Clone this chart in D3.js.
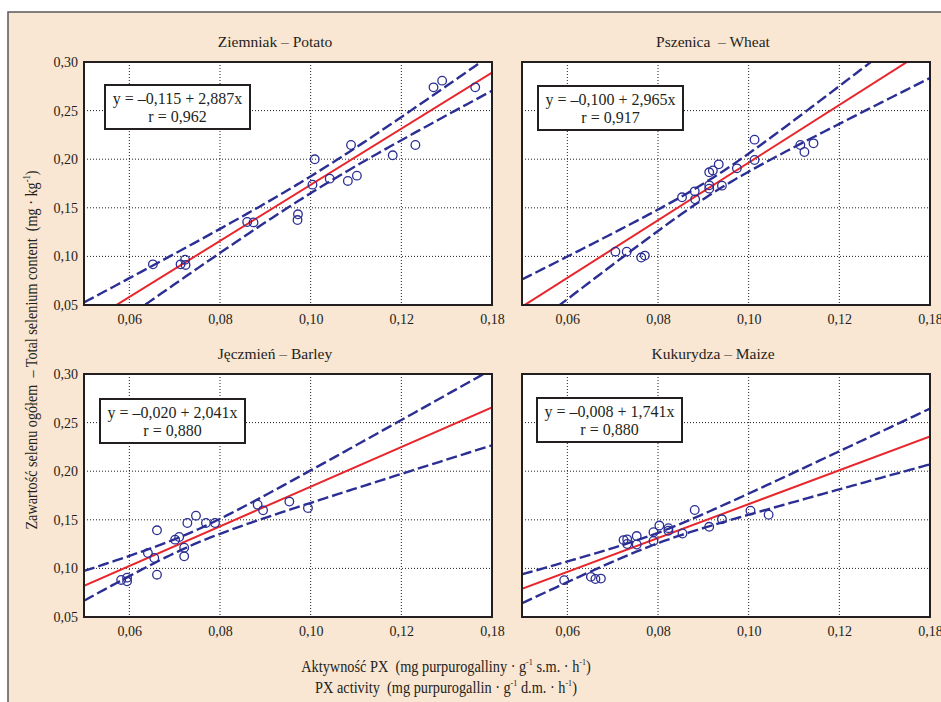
<!DOCTYPE html>
<html><head><meta charset="utf-8">
<script src="https://cdn.jsdelivr.net/npm/d3@7"></script>
<style>
body{margin:0;background:#fff}
</style>
</head><body>
<svg id="chart" width="941" height="702" style="font-family:'Liberation Serif','DejaVu Serif',serif"></svg>
<script>
// ---------------- data ----------------
const panelTitles = ["Ziemniak – Potato", "Pszenica  – Wheat", "Jęczmień – Barley", "Kukurydza – Maize"];
const intercepts = [-0.115, -0.100, -0.020, -0.008];
const slopes = [2.887, 2.965, 2.041, 1.741];
const equationLabels = ["y = –0,115 + 2,887x", "y = –0,100 + 2,965x", "y = –0,020 + 2,041x", "y = –0,008 + 1,741x"];
const rLabels = ["r = 0,962", "r = 0,917", "r = 0,880", "r = 0,880"];
const tCritical = [2.110, 2.110, 2.110, 2.101];

const potatoX = [0.0652,0.0713,0.0723,0.0724,0.0860,0.0874,0.0972,0.0971,0.1004,0.1009,0.1042,0.1082,0.1089,0.1102,0.1181,0.1231,0.1271,0.1290,0.1363];
const potatoY = [0.0918,0.0918,0.0966,0.0912,0.1354,0.1350,0.1433,0.1374,0.1738,0.1999,0.1800,0.1776,0.2146,0.1831,0.2040,0.2146,0.2739,0.2808,0.2739];

const wheatX = [0.0706,0.0731,0.0763,0.0771,0.0853,0.0881,0.0882,0.0913,0.0921,0.0934,0.0913,0.0913,0.0941,0.0974,0.1013,0.1013,0.1114,0.1123,0.1143];
const wheatY = [0.1049,0.1049,0.0988,0.1008,0.1608,0.1669,0.1587,0.1865,0.1884,0.1947,0.1731,0.1697,0.1728,0.1906,0.2201,0.1992,0.2146,0.2074,0.2163];

const barleyX = [0.0582,0.0595,0.0595,0.0641,0.0655,0.0661,0.0661,0.0701,0.0710,0.0721,0.0721,0.0728,0.0747,0.0769,0.0789,0.0883,0.0895,0.0953,0.0994];
const barleyY = [0.0881,0.0905,0.0867,0.1158,0.1107,0.1392,0.0935,0.1296,0.1323,0.1213,0.1124,0.1467,0.1542,0.1467,0.1467,0.1656,0.1597,0.1687,0.1621];

const maizeX = [0.0593,0.0652,0.0662,0.0674,0.0724,0.0732,0.0732,0.0753,0.0753,0.0790,0.0790,0.0803,0.0823,0.0823,0.0854,0.0881,0.0913,0.0941,0.1004,0.1044];
const maizeY = [0.0879,0.0913,0.0891,0.0895,0.1291,0.1299,0.1251,0.1333,0.1246,0.1372,0.1282,0.1441,0.1414,0.1388,0.1359,0.1601,0.1428,0.1505,0.1594,0.1552];

const seriesX = [potatoX, wheatX, barleyX, maizeX];
const seriesY = [potatoY, wheatY, barleyY, maizeY];

const xDomain = [0.05, 0.14];
const yDomain = [0.05, 0.30];
const xTickValues = [0.06, 0.08, 0.10, 0.12, 0.14];
const xTickLabels = ["0,06", "0,08", "0,10", "0,12", "0,18"];
const yTickValues = [0.05, 0.10, 0.15, 0.20, 0.25, 0.30];
const yTickLabels = ["0,05", "0,10", "0,15", "0,20", "0,25", "0,30"];

// ---------------- layout ----------------
const FONT = "'Liberation Serif','DejaVu Serif',serif";
const TEXTC = "#231f20";
const plotW = 408, plotH = 243;
const panelOrigins = [[84, 62], [522, 62], [84, 374], [522, 374]];
const legendOffsets = [[21, 23], [16, 24], [16, 25], [15, 24]];
const colors = {bg: "#f9e6d3", blue: "#2b2f93", red: "#e8262b", frame: "#231f20"};

const svg = d3.select("#chart");
svg.append("rect").attr("x", 8).attr("y", 12).attr("width", 945).attr("height", 700)
  .attr("fill", colors.bg).attr("stroke", "#58585a").attr("stroke-width", 1.5);

const x = d3.scaleLinear().domain(xDomain).range([0, plotW]);
const y = d3.scaleLinear().domain(yDomain).range([plotH, 0]);

function styleText(sel, size) {
  sel.style("font-family", FONT).style("font-size", size + "px").style("fill", TEXTC).style("white-space", "pre");
  return sel;
}

panelTitles.forEach((title, i) => {
  const [ox, oy] = panelOrigins[i];
  const g = svg.append("g").attr("transform", `translate(${ox},${oy})`);
  const clipId = "clip" + i;
  g.append("clipPath").attr("id", clipId).append("rect").attr("width", plotW).attr("height", plotH);

  g.append("rect").attr("width", plotW).attr("height", plotH).attr("fill", "#fff");

  // grid
  g.append("g").selectAll("line").data(xTickValues.filter(v => v > xDomain[0] && v < xDomain[1]))
    .join("line").attr("x1", d => x(d)).attr("x2", d => x(d)).attr("y1", 0).attr("y2", plotH)
    .attr("stroke", "#231f20").attr("stroke-width", 1).attr("stroke-dasharray", "1,2");
  g.append("g").selectAll("line").data(yTickValues.filter(v => v > yDomain[0] && v < yDomain[1]))
    .join("line").attr("y1", d => y(d)).attr("y2", d => y(d)).attr("x1", 0).attr("x2", plotW)
    .attr("stroke", "#231f20").attr("stroke-width", 1).attr("stroke-dasharray", "1,2");

  // regression line and 95% confidence band derived from the points
  const xs = seriesX[i], ys = seriesY[i];
  const n = xs.length, a = intercepts[i], b = slopes[i];
  const xbar = d3.mean(xs);
  const sxx = d3.sum(xs, v => (v - xbar) ** 2);
  const sse = d3.sum(xs, (v, k) => (ys[k] - (a + b * v)) ** 2);
  const s = Math.sqrt(sse / (n - 2));
  const fit = v => a + b * v;
  const half = v => tCritical[i] * s * Math.sqrt(1 / n + (v - xbar) ** 2 / sxx);
  const grid = d3.range(0, 101).map(k => xDomain[0] + (xDomain[1] - xDomain[0]) * k / 100);

  const line = d3.line().x(d => x(d[0])).y(d => y(d[1]));
  const plot = g.append("g").attr("clip-path", `url(#${clipId})`);
  [1, -1].forEach(sign => {
    plot.append("path").attr("d", line(grid.map(v => [v, fit(v) + sign * half(v)])))
      .attr("fill", "none").attr("stroke", colors.blue).attr("stroke-width", 2.4)
      .attr("stroke-dasharray", "11,4");
  });
  plot.append("path").attr("d", line(xDomain.map(v => [v, fit(v)])))
    .attr("fill", "none").attr("stroke", colors.red).attr("stroke-width", 2);

  plot.append("g").selectAll("circle").data(xs.map((v, k) => [v, ys[k]])).join("circle")
    .attr("cx", d => x(d[0])).attr("cy", d => y(d[1])).attr("r", 4.3)
    .attr("fill", "none").attr("stroke", colors.blue).attr("stroke-width", 1.3);

  g.append("rect").attr("width", plotW).attr("height", plotH).attr("fill", "none")
    .attr("stroke", colors.frame).attr("stroke-width", 2);

  // axes
  const xa = g.append("g").attr("transform", `translate(0,${plotH})`)
    .call(d3.axisBottom(x).tickValues(xTickValues).tickFormat((d, k) => xTickLabels[k]).tickSize(0).tickPadding(9));
  xa.select(".domain").remove();
  styleText(xa.selectAll("text"), 14);
  if (i % 2 === 0) {
    const ya = g.append("g")
      .call(d3.axisLeft(y).tickValues(yTickValues).tickFormat((d, k) => yTickLabels[k]).tickSize(0).tickPadding(6));
    ya.select(".domain").remove();
    styleText(ya.selectAll("text"), 14);
  }

  // title
  styleText(g.append("text").attr("x", 191).attr("y", -15).attr("text-anchor", "middle"), 15.5).text(title);

  // legend
  const [lx, ly] = legendOffsets[i];
  const lg = g.append("g").attr("transform", `translate(${lx},${ly})`);
  lg.append("rect").attr("width", 145).attr("height", 44).attr("fill", "#fff")
    .attr("stroke", colors.frame).attr("stroke-width", 2);
  styleText(lg.append("text").attr("x", 72.5).attr("y", 18.5).attr("text-anchor", "middle"), 16).text(equationLabels[i]);
  styleText(lg.append("text").attr("x", 72.5).attr("y", 37).attr("text-anchor", "middle"), 16).text(rLabels[i]);
});

// y axis title
const yt = styleText(svg.append("text").attr("transform", "translate(37,350) rotate(-90) scale(0.86,1)")
  .attr("text-anchor", "middle"), 16.5);
yt.append("tspan").text("Zawartość selenu ogółem  – Total selenium content  (mg · kg");
yt.append("tspan").style("font-size", "10px").attr("dy", -7).text("-1");
yt.append("tspan").attr("dy", 7).text(")");

// x axis titles
function xTitle(yPos, parts) {
  const t = styleText(svg.append("text").attr("transform", `translate(446,${yPos}) scale(0.895,1)`)
    .attr("text-anchor", "middle"), 16);
  let pendingDy = 0;
  parts.forEach(p => {
    if (p.sup) {
      t.append("tspan").style("font-size", "9px").attr("dy", -7).text(p.t);
      pendingDy = 7;
    } else {
      const ts = t.append("tspan").text(p.t);
      if (pendingDy) { ts.attr("dy", pendingDy); pendingDy = 0; }
    }
  });
}
xTitle(672, [{t: "Aktywność PX  (mg purpurogalliny · g"}, {t: "-1", sup: true}, {t: " s.m. · h"}, {t: "-1", sup: true}, {t: ")"}]);
xTitle(693, [{t: "PX activity  (mg purpurogallin · g"}, {t: "-1", sup: true}, {t: " d.m. · h"}, {t: "-1", sup: true}, {t: ")"}]);
</script>
</body></html>
